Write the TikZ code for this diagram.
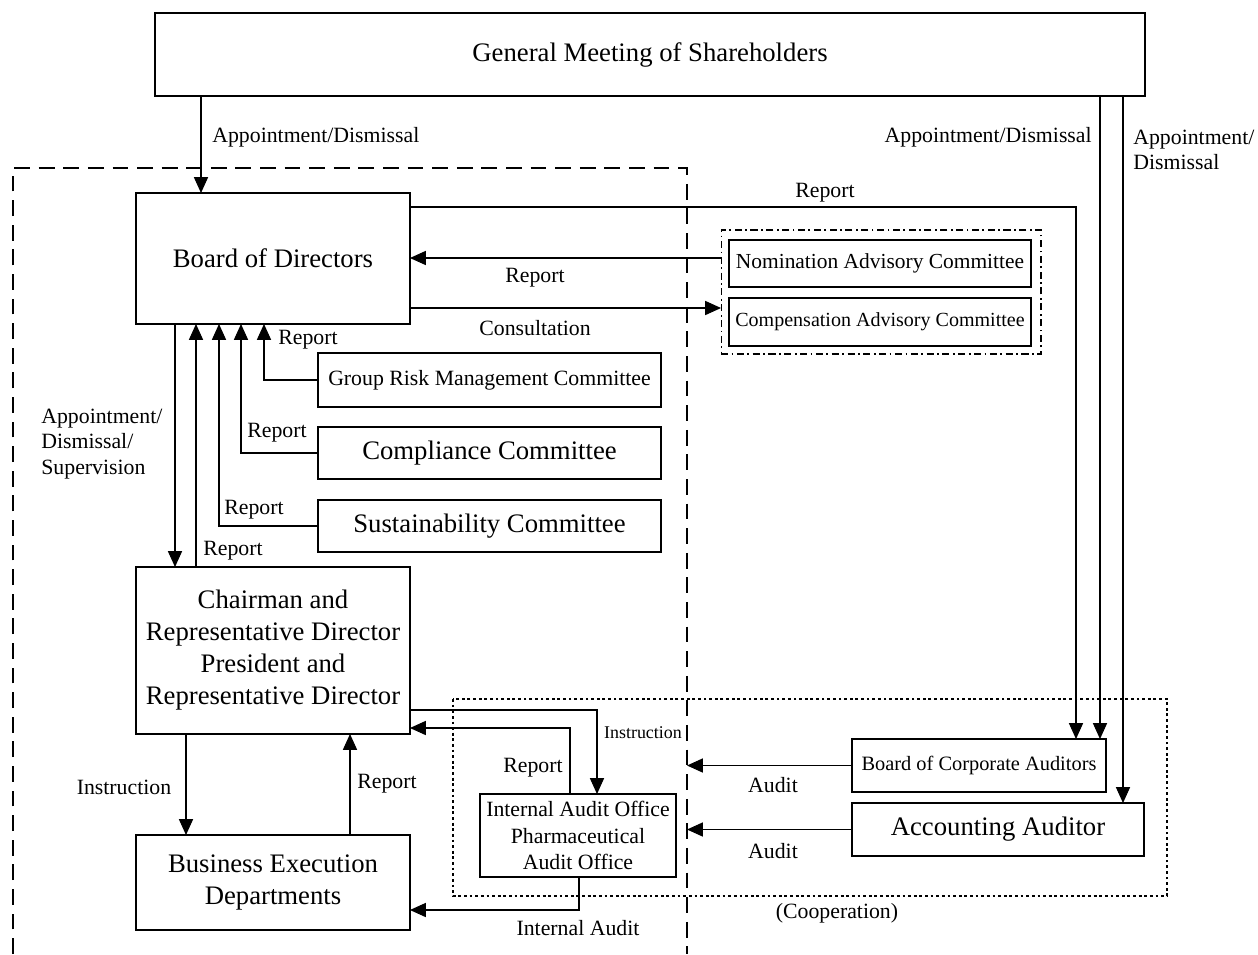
\documentclass[tikz,border=0pt]{standalone}
\usepackage{fontspec}
\setmainfont{Liberation Serif}
\usetikzlibrary{arrows.meta,positioning,calc}

\begin{document}
\begin{tikzpicture}[x=0.02cm, y=-0.02cm,
    box/.style={draw, line width=0.8pt, inner sep=0pt, outer sep=0pt,
                align=center, font=\fontsize{15.2}{18.2}\selectfont},
    lbl/.style={inner sep=0pt, font=\fontsize{12.4}{14.6}\selectfont},
    arr/.style={line width=0.6pt, -{Triangle[length=9pt,width=8pt]}},
    ln/.style={line width=0.6pt}]
  \useasboundingbox (0,0) rectangle (1258,954);

  %% shareholders on top
  \node[box, minimum width=19.8cm, minimum height=1.66cm]
    (gms) at (650,54.5) {General Meeting of Shareholders};

  %% directors side
  \node[box, minimum width=5.48cm, minimum height=2.62cm]
    (bod) at (273,258.5) {Board of Directors};
  \node[box, minimum width=6.86cm, minimum height=1.08cm,
        font=\fontsize{12.4}{14}\selectfont]
    (grm) at (489.5,380) {Group Risk Management Committee};
  \node[box, minimum width=6.86cm, minimum height=1.04cm]
    (cc) at (489.5,453) {Compliance Committee};
  \node[box, minimum width=6.86cm, minimum height=1.04cm]
    (sc) at (489.5,526) {Sustainability Committee};
  \node[box, minimum width=5.48cm, minimum height=3.34cm]
    (crd) at (273,650.5) {Chairman and\\Representative Director\\President and\\Representative Director};
  \node[box, minimum width=5.48cm, minimum height=1.9cm]
    (bed) at (273,882.5) {Business Execution\\Departments};
  \node[box, minimum width=3.92cm, minimum height=1.66cm,
        font=\fontsize{12.4}{15}\selectfont]
    (iao) at (578,835.5) {Internal Audit Office\\Pharmaceutical\\Audit Office};

  %% advisory committees
  \node[box, line width=0.6pt, dash pattern=on 4pt off 2pt on 1pt off 2pt,
        minimum width=6.4cm, minimum height=2.48cm]
    (adv) at (881,292) {};
  \node[box, minimum width=6.04cm, minimum height=0.94cm,
        font=\fontsize{12.2}{14}\selectfont]
    (nac) at (880,263.5) {Nomination Advisory Committee};
  \node[box, minimum width=6.04cm, minimum height=0.96cm,
        font=\fontsize{11.4}{14}\selectfont]
    (cac) at (880,322) {Compensation Advisory Committee};

  %% auditors
  \node[box, minimum width=5.08cm, minimum height=1.06cm,
        font=\fontsize{11.6}{14}\selectfont]
    (bca) at (979,765.5) {Board of Corporate Auditors};
  \node[box, minimum width=5.84cm, minimum height=1.06cm]
    (aa) at (998,829.5) {Accounting Auditor};

  %% frames
  \coordinate (frame) at (687,168);
  \draw[line width=1.6pt, dash pattern=on 9pt off 5pt]
    (13,954) -- (13,168) -- (frame) -- (687,954);
  \draw[ln, dash pattern=on 1.6pt off 1.6pt] (453,699) rectangle (1167,896);

  %% from the shareholders
  \draw[arr] (gms.south -| 201,0) -- (bod.north -| 201,0);
  \node[lbl, anchor=west] at (212,137) {Appointment/Dismissal};
  \draw[arr] (gms.south -| 1100,0) -- (bca.north -| 1100,0);
  \node[lbl, anchor=east] at (1092,137) {Appointment/Dismissal};
  \draw[arr] (gms.south -| 1123,0) -- (aa.north -| 1123,0);
  \node[lbl, anchor=west, align=left] at (1133,150) {Appointment/\\Dismissal};

  %% board and committees
  \draw[arr] (bod.east |- 0,207) -| (bca.north -| 1076,0);
  \node[lbl] at (825,193) {Report};
  \draw[arr] (adv.west |- 0,258) -- (bod.east |- 0,258);
  \node[lbl] at (535,278) {Report};
  \draw[arr] (bod.east |- 0,308) -- (adv.west |- 0,308);
  \node[lbl] at (535,328) {Consultation};
  \draw[arr] (grm.west) -| (bod.south -| 264,0);
  \node[lbl] at (308,340) {Report};
  \draw[arr] (cc.west) -| (bod.south -| 241,0);
  \node[lbl] at (277,433) {Report};
  \draw[arr] (sc.west) -| (bod.south -| 219,0);
  \node[lbl] at (254,510) {Report};

  %% board and chairman
  \draw[arr] (bod.south -| 175,0) -- (crd.north -| 175,0);
  \node[lbl, anchor=west, align=left] at (41,444) {Appointment/\\Dismissal/\\Supervision};
  \draw[arr] (crd.north -| 196,0) -- (bod.south -| 196,0);
  \node[lbl] at (233,551) {Report};

  %% chairman, departments, audit office
  \draw[arr] (crd.south -| 186,0) -- (bed.north -| 186,0);
  \node[lbl] at (124,787) {Instruction};
  \draw[arr] (bed.north -| 350,0) -- (crd.south -| 350,0);
  \node[lbl] at (387,784) {Report};
  \draw[arr] (crd.east |- 0,710) -| (iao.north -| 597,0);
  \node[lbl, font=\fontsize{10.2}{12}\selectfont] at (643,733) {Instruction};
  \draw[arr] (iao.north -| 570,0) |- (crd.east |- 0,728);
  \node[lbl] at (533,768) {Report};
  \draw[arr] (iao.south -| 579,0) |- (bed.east |- 0,910);
  \node[lbl] at (578,928) {Internal Audit};

  %% audits
  \draw[arr] (bca.west) -- (bca.west -| frame);
  \node[lbl] at (773,785) {Audit};
  \draw[arr] (aa.west) -- (aa.west -| frame);
  \node[lbl] at (773,851) {Audit};
  \node[lbl] at (837,913) {(Cooperation)};
\end{tikzpicture}
\end{document}
